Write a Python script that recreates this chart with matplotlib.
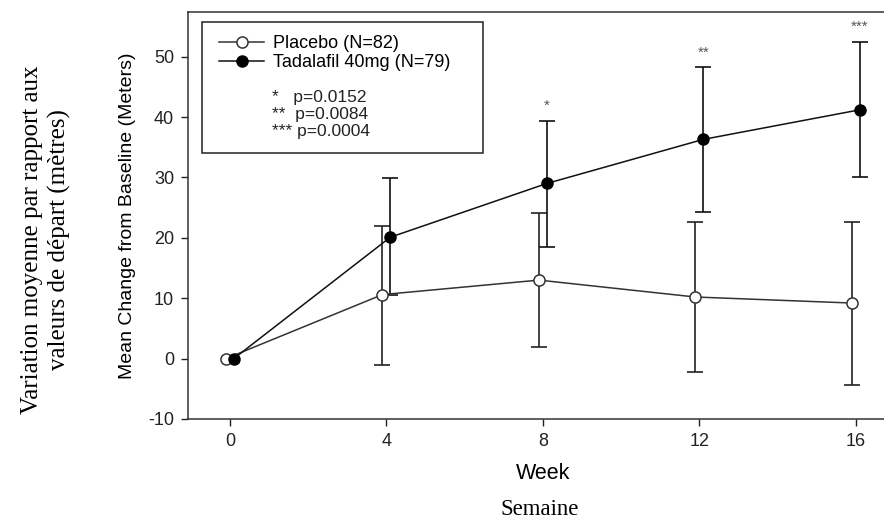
import matplotlib.pyplot as plt
from matplotlib.patches import Rectangle

plt.rcParams['font.family'] = ['Liberation Sans', 'DejaVu Sans']
plt.rcParams['axes.unicode_minus'] = False

weeks = [0, 4, 8, 12, 16]
placebo = [0, 10.6, 13.0, 10.2, 9.2]
placebo_lo = [0, -1.0, 2.0, -2.3, -4.3]
placebo_hi = [0, 22.0, 24.1, 22.6, 22.6]
tadalafil = [0, 20.1, 29.0, 36.3, 41.2]
tadalafil_lo = [0, 10.6, 18.5, 24.2, 30.0]
tadalafil_hi = [0, 29.9, 39.4, 48.3, 52.4]
stars = ['', '', '*', '**', '***']
star_y = [0, 0, 41.8, 50.6, 55.0]
pvals = ['*   p=0.0152', '**  p=0.0084', '*** p=0.0004']
shift = 0.1

fig = plt.figure(figsize=(8.84, 5.19), dpi=100)
ax = fig.add_axes([0.2127, 0.1927, 0.7873, 0.7842])

xp = [w - shift for w in weeks]
xt = [w + shift for w in weeks]
p_err = [[p - l for p, l in zip(placebo, placebo_lo)], [h - p for p, h in zip(placebo, placebo_hi)]]
t_err = [[t - l for t, l in zip(tadalafil, tadalafil_lo)], [h - t for t, h in zip(tadalafil, tadalafil_hi)]]

ax.errorbar(xp[1:], placebo[1:], yerr=[p_err[0][1:], p_err[1][1:]], fmt='none',
            ecolor='#222222', elinewidth=1.2, capsize=6, capthick=1.2, zorder=2)
ax.errorbar(xt[1:], tadalafil[1:], yerr=[t_err[0][1:], t_err[1][1:]], fmt='none',
            ecolor='#111111', elinewidth=1.2, capsize=6, capthick=1.2, zorder=2)
ax.plot(xp, placebo, color='#333333', lw=1.1, marker='o', ms=8, mfc='white',
        mec='#333333', mew=1.1, label='Placebo (N=82)', zorder=3)
ax.plot(xt, tadalafil, color='#111111', lw=1.1, marker='o', ms=8, mfc='black',
        mec='black', label='Tadalafil 40mg (N=79)', zorder=4)

for x, s, y in zip(xt, stars, star_y):
    if s:
        ax.text(x, y, s, ha='center', va='center', fontsize=11, color='#555555')

ax.set_xlim(-1.07, 16.72)
ax.set_ylim(-10, 57.4)
ax.set_xticks(weeks)
ax.set_yticks([-10, 0, 10, 20, 30, 40, 50])
ax.tick_params(direction='out', length=5, width=1, labelsize=13, colors='#222222', pad=5)
ax.spines['right'].set_visible(False)
for sp in ax.spines.values():
    sp.set_color('#333333')
    sp.set_linewidth(1.1)

ax.set_ylabel('Mean Change from Baseline (Meters)', fontsize=14)
ax.yaxis.set_label_coords(-0.075, 0.5)
ax.set_xlabel('Week', fontsize=15.5)
ax.xaxis.set_label_coords(0.51, -0.108)

# legend box with p-values
ax.add_patch(Rectangle((0.02, 0.654), 0.404, 0.321, transform=ax.transAxes,
                       fill=False, ec='#222222', lw=1.1, zorder=5))
ax.legend(loc='upper left', bbox_to_anchor=(0.02, 0.985), frameon=False, fontsize=13,
          handlelength=2.5, handletextpad=0.5, borderpad=0.45, labelspacing=0.1)
for i, t in enumerate(pvals):
    ax.text(0.12, 0.79 - i * 0.042, t, transform=ax.transAxes, fontsize=12.5,
            va='center', ha='left', color='#222222')

fig.text(0.611, 0.008, 'Semaine', family='Liberation Serif', fontsize=16.5,
         ha='center', va='baseline')
fig.text(0.052, 0.538, 'Variation moyenne par rapport aux\nvaleurs de départ (mètres)',
         family='Liberation Serif', fontsize=18, rotation=90, ha='center', va='center',
         linespacing=1.3)

fig.savefig('out.png', dpi=100)
